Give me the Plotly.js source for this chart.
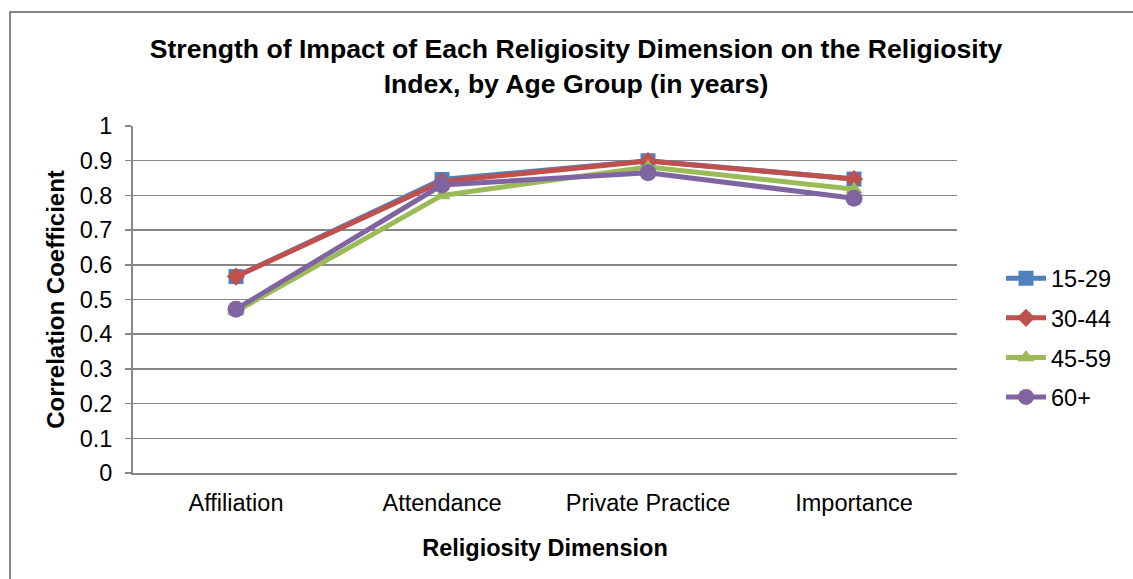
<!DOCTYPE html>
<html>
<head>
<meta charset="utf-8">
<script src="https://cdn.plot.ly/plotly-3.0.1.min.js"></script>
<style>html,body{margin:0;padding:0;background:#fff;}#chart{width:1133px;height:579px;}</style>
</head>
<body>
<div id="chart"></div>
<script>
const categories = ["Affiliation", "Attendance", "Private Practice", "Importance"];
const seriesNames = ["15-29", "30-44", "45-59", "60+"];
const values1529 = [0.566, 0.846, 0.900, 0.847];
const values3044 = [0.566, 0.840, 0.899, 0.847];
const values4559 = [0.466, 0.800, 0.882, 0.818];
const values60 = [0.472, 0.830, 0.865, 0.792];
const yTicks = [0, 0.1, 0.2, 0.3, 0.4, 0.5, 0.6, 0.7, 0.8, 0.9, 1];
const yTickLabels = ["0", "0.1", "0.2", "0.3", "0.4", "0.5", "0.6", "0.7", "0.8", "0.9", "1"];

const colors = ["#4F81BD", "#C0504D", "#9BBB59", "#8064A2"];
const symbols = ["square", "diamond", "triangle-up", "circle"];
const sizes = [15, 14, 15, 17];
const allValues = [values1529, values3044, values4559, values60];

const traces = allValues.map((vals, i) => ({
  type: "scatter",
  mode: "lines+markers",
  name: seriesNames[i],
  x: categories,
  y: vals,
  legendgroup: "g" + i,
  line: {color: colors[i], width: 5},
  marker: {symbol: symbols[i], size: sizes[i], color: colors[i]}
}));

const L = 133, R = 957, T = 126, B = 473;
const W = R - L, H = B - T;
const px = v => (v - L) / W;
const py = v => (B - v) / H;

const layout = {
  width: 1133, height: 579,
  margin: {l: L, r: 1133 - R, t: T, b: 579 - B, pad: 0},
  paper_bgcolor: "#fff", plot_bgcolor: "#fff",
  font: {family: "Liberation Sans, Arial, sans-serif", color: "#000", size: 24},
  title: {
    text: "<b>Strength of Impact of Each Religiosity Dimension on the Religiosity<br>Index, by Age Group (in years)</b>",
    font: {size: 26.6, family: "Liberation Sans, Arial, sans-serif", color: "#000"},
    xref: "paper", x: px(576), xanchor: "center",
    yref: "container", y: 1 - 58 / 579, yanchor: "middle"
  },
  xaxis: {
    type: "category",
    range: [-0.5, 3.5],
    showgrid: false,
    showline: true, linecolor: "#868686", linewidth: 2,
    ticks: "outside", ticklen: 8, tickcolor: "rgba(0,0,0,0)",
    tickfont: {size: 23.5},
    title: {text: "<b>Religiosity Dimension</b>", font: {size: 23.5}, standoff: 24},
    fixedrange: true
  },
  yaxis: {
    range: [0, 1],
    tickvals: yTicks, ticktext: yTickLabels,
    showgrid: true, gridcolor: "#868686", gridwidth: 1.5,
    showline: true, linecolor: "#868686", linewidth: 2,
    ticks: "outside", ticklen: 6, tickcolor: "#868686", tickwidth: 1.5,
    ticklabelstandoff: 8,
    zeroline: false,
    tickfont: {size: 23.5},
    title: {text: "<b>Correlation Coefficient</b>", font: {size: 24}, standoff: 8},
    fixedrange: true
  },
  legend: {
    x: px(1001), y: py(338), xanchor: "left", yanchor: "middle",
    font: {size: 23.5}, tracegroupgap: 6, traceorder: "grouped",
    bgcolor: "rgba(0,0,0,0)", itemwidth: 40
  },
  shapes: [{
    type: "rect", xref: "paper", yref: "paper",
    x0: px(10), x1: px(1150), y0: py(595), y1: py(12),
    line: {color: "#868686", width: 2}, fillcolor: "rgba(0,0,0,0)", layer: "below"
  }]
};

Plotly.newPlot("chart", traces, layout, {displayModeBar: false, staticPlot: true});
</script>
</body>
</html>
